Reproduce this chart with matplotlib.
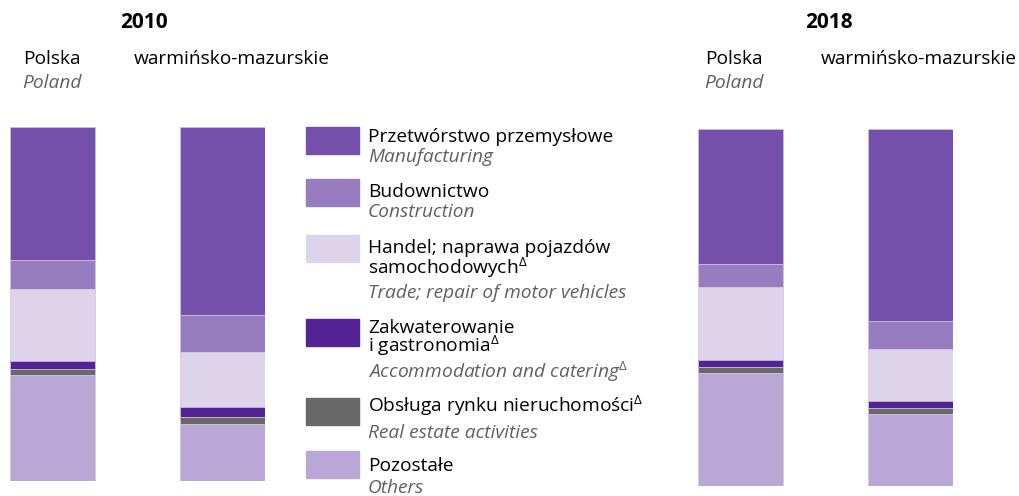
import matplotlib
matplotlib.use("Agg")
import matplotlib.pyplot as plt
from matplotlib.patches import Rectangle

plt.rcParams['font.family'] = ['Open Sans', 'DejaVu Sans']
plt.rcParams['mathtext.fontset'] = 'custom'
plt.rcParams['mathtext.rm'] = 'Open Sans'
plt.rcParams['mathtext.it'] = 'Open Sans:italic'

# udział w % (od góry: przetwórstwo ... pozostałe)
categories_pl = [["Przetwórstwo przemysłowe"], ["Budownictwo"],
                 ["Handel; naprawa pojazdów", "samochodowych$^{\\Delta}$"],
                 ["Zakwaterowanie", "i gastronomia$^{\\Delta}$"],
                 ["Obsługa rynku nieruchomości$^{\\Delta}$"], ["Pozostałe"]]
categories_en = ["Manufacturing", "Construction", "Trade; repair of motor vehicles",
                 "Accommodation and catering$^{\\Delta}$", "Real estate activities", "Others"]
colors = ["#7450ac", "#977dc0", "#ddd4eb", "#532396", "#686868", "#baa7d5"]

years = ["2010", "2018"]
regions = ["Polska", "warmińsko-mazurskie"]
values = {
    "2010": [[37.5, 8.3, 20.4, 2.0, 1.7, 30.1],
             [53.1, 10.5, 15.6, 2.8, 1.8, 16.2]],
    "2018": [[37.6, 6.5, 20.6, 1.8, 1.7, 31.8],
             [53.8, 7.8, 14.6, 2.0, 1.6, 20.2]],
}

W, H = 1019, 496
FS = 13.8
GRAY = "#5f5f5f"
fig = plt.figure(figsize=(W / 100, H / 100), dpi=100)


def fx(x): return x / W
def fy(y): return 1 - y / H


# osie dla grup (piksele: left, top, right, bottom)
boxes = {"2010": (10, 127.3, 265, 481), "2018": (698, 129.3, 953, 486.3)}
for yr in years:
    l, t, r, b = boxes[yr]
    ax = fig.add_axes([fx(l), fy(b), (r - l) / W, (b - t) / H])
    for i, vals in enumerate(values[yr]):
        top = 100.0
        for v, c in zip(vals, colors):
            ax.bar(i * 2, v, width=1.0, bottom=top - v, color=c,
                   edgecolor="#cfc3e3", linewidth=0.5)
            top -= v
    ax.set_xlim(-0.5, 2.5)
    ax.set_ylim(0, 100)
    ax.axis("off")

# nagłówki
fig.text(fx(144), fy(27.5), "2010", ha="center", va="baseline", fontsize=15, fontweight="bold")
fig.text(fx(829), fy(27.5), "2018", ha="center", va="baseline", fontsize=15, fontweight="bold")
for cx, wx in [(52, 231.5), (734, 918.5)]:
    fig.text(fx(cx), fy(64), regions[0], ha="center", va="baseline", fontsize=FS)
    fig.text(fx(cx), fy(87.5), "Poland", ha="center", va="baseline", fontsize=FS,
             style="italic", color=GRAY)
    fig.text(fx(wx), fy(63.5), regions[1], ha="center", va="baseline", fontsize=FS)

# legenda
patch_top = [127, 179.3, 235, 319, 398, 451]
base_pl = [[141.5], [196.7], [253, 274.3], [333.3, 352.5], [412.3], [471]]
base_en = [162.5, 216.7, 298.3, 378.5, 437.7, 493]
for i, (pl, en, c) in enumerate(zip(categories_pl, categories_en, colors)):
    y0 = patch_top[i]
    fig.patches.append(Rectangle((fx(306), fy(y0 + 26.7)), 53 / W, 26.7 / H,
                                 transform=fig.transFigure, color=c))
    for line, yb in zip(pl, base_pl[i]):
        fig.text(fx(368), fy(yb), line, ha="left", va="baseline", fontsize=FS)
    fig.text(fx(368), fy(base_en[i]), en, ha="left", va="baseline", fontsize=FS,
             style="italic", color=GRAY)

fig.savefig("out.png", dpi=100)
